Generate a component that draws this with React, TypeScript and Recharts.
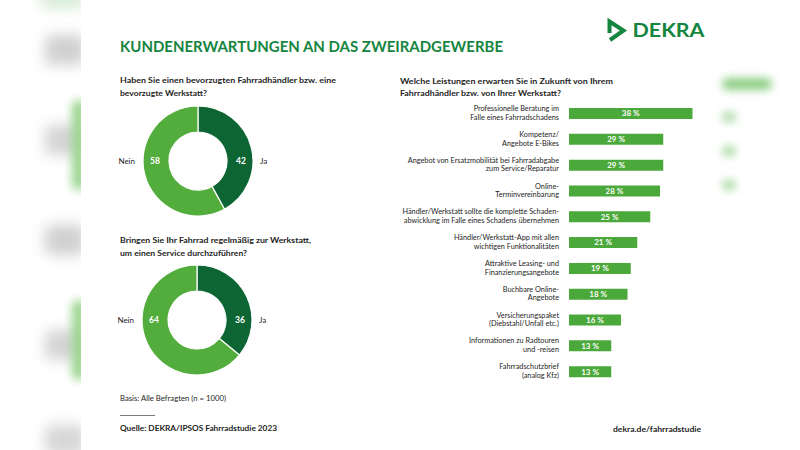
import React from 'react';
import { PieChart, Pie, Cell, BarChart, Bar, XAxis, YAxis, LabelList } from 'recharts';

const FONT = 'Lato, "Open Sans", sans-serif';
const GREEN_TITLE = '#15853f';
const DARK = '#0c6532';
const LIGHT = '#52ad3c';
const BAR = '#4ba83a';
const TEXT = '#1e1e1e';

// Donuts
const donutNames = ['Ja', 'Nein'];
const donut1Values = [42, 58];
const donut2Values = [36, 64];
const donutColors = [DARK, LIGHT];

// Bars
const serviceLabels = [
  'Professionelle Beratung im|Falle eines Fahrradschadens',
  'Kompetenz/|Angebote E-Bikes',
  'Angebot von Ersatzmobilität bei Fahrradabgabe|zum Service/Reparatur',
  'Online-|Terminvereinbarung',
  'Händler/Werkstatt sollte die komplette Schaden-|abwicklung im Falle eines Schadens übernehmen',
  'Händler/Werkstatt-App mit allen|wichtigen Funktionalitäten',
  'Attraktive Leasing- und|Finanzierungsangebote',
  'Buchbare Online-|Angebote',
  'Versicherungspaket|(Diebstahl/Unfall etc.)',
  'Informationen zu Radtouren|und -reisen',
  'Fahrradschutzbrief|(analog Kfz)',
];
const serviceValues = [38, 29, 29, 28, 25, 21, 19, 18, 16, 13, 13];

const title = 'KUNDENERWARTUNGEN AN DAS ZWEIRADGEWERBE';
const q1 = ['Haben Sie einen bevorzugten Fahrradhändler bzw. eine', 'bevorzugte Werkstatt?'];
const q2 = ['Bringen Sie Ihr Fahrrad regelmäßig zur Werkstatt,', 'um einen Service durchzuführen?'];
const q3 = ['Welche Leistungen erwarten Sie in Zukunft von Ihrem', 'Fahrradhändler bzw. von Ihrer Werkstatt?'];
const basis = 'Basis: Alle Befragten (n = 1000)';
const source = 'Quelle: DEKRA/IPSOS Fahrradstudie 2023';
const url = 'dekra.de/fahrradstudie';

const OUTER = 55;
const INNER = 29;

function makeLabel(cx: number, cy: number) {
  return (props: any) => {
    const { index, value, name } = props;
    const mid = (OUTER + INNER) / 2 + 1;
    const isJa = index === 0;
    const vx = isJa ? cx + mid : cx - mid;
    const nx = isJa ? cx + OUTER + 7 : cx - OUTER - 8;
    return (
      <g key={`l${index}`}>
        <text x={vx} y={cy + 3} textAnchor="middle" fill="#fff" fontSize={8.5} fontWeight={700} fontFamily={FONT}>
          {value}
        </text>
        <text x={nx} y={cy + 3} textAnchor={isJa ? 'start' : 'end'} fill={TEXT} stroke="none" fontSize={8} fontFamily={FONT}>
          {name}
        </text>
      </g>
    );
  };
}

function Donut({ values, left, top, cx, cy }: { values: number[]; left: number; top: number; cx: number; cy: number }) {
  const data = donutNames.map((n, i) => ({ name: n, value: values[i] }));
  return (
    <div style={{ position: 'absolute', left, top }}>
      <PieChart width={200} height={125} margin={{ top: 0, right: 0, bottom: 0, left: 0 }}>
        <Pie
          data={data}
          dataKey="value"
          nameKey="name"
          cx={cx}
          cy={cy}
          innerRadius={INNER}
          outerRadius={OUTER}
          startAngle={90}
          endAngle={-270}
          stroke="#fff"
          strokeWidth={1.2}
          isAnimationActive={false}
          labelLine={false}
          label={makeLabel(cx, cy)}
        >
          {data.map((d, i) => (
            <Cell key={d.name} fill={donutColors[i]} />
          ))}
        </Pie>
      </PieChart>
    </div>
  );
}

function ServiceTick(props: any) {
  const { x, y, payload } = props;
  const lines = String(payload.value).split('|');
  return (
    <text x={x} y={y} textAnchor="end" fill={TEXT} fontSize={7.3} fontFamily={FONT}>
      <tspan x={x} y={y - 2.8}>{lines[0]}</tspan>
      <tspan x={x} y={y + 5.8}>{lines[1]}</tspan>
    </text>
  );
}

const barData = serviceLabels.map((l, i) => ({ label: l, value: serviceValues[i] }));

function Blob({ l, t, w, h, c, b = 7 }: { l: number; t: number; w: number; h: number; c: string; b?: number }) {
  return <div style={{ position: 'absolute', left: l, top: t, width: w, height: h, background: c, filter: `blur(${b}px)`, borderRadius: 6 }} />;
}

export default function App() {
  return (
    <div style={{ position: 'absolute', left: 0, top: 0, width: 800, height: 450, background: '#fff', overflow: 'hidden', fontFamily: FONT }}>
      {/* blurred background outside card */}
      <Blob l={45} t={35} w={40} h={30} c="#d0d0d0" />
      <Blob l={45} t={125} w={40} h={30} c="#d4d4d4" />
      <Blob l={72} t={100} w={14} h={90} c="#9bd490" b={5} />
      <Blob l={45} t={225} w={40} h={30} c="#d0d0d0" />
      <Blob l={45} t={330} w={40} h={30} c="#d4d4d4" />
      <Blob l={72} t={300} w={14} h={80} c="#9bd490" b={5} />
      <Blob l={45} t={425} w={40} h={30} c="#d6d6d6" />
      <Blob l={40} t={-10} w={45} h={18} c="#d5ebd5" />
      <div style={{ position: 'absolute', left: 81, top: 0, width: 638, height: 450, background: '#fff' }} />
      <Blob l={722} t={78} w={50} h={12} c="#8dcd84" b={4} />
      <Blob l={722} t={112} w={14} h={10} c="#a9d9a2" b={4} />
      <Blob l={722} t={146} w={14} h={10} c="#a9d9a2" b={4} />
      <Blob l={722} t={180} w={14} h={10} c="#a9d9a2" b={4} />

      <svg width={800} height={450} style={{ position: 'absolute', left: 0, top: 0 }}>
        <text x={120} y={51.5} fill={GREEN_TITLE} fontSize={16} fontWeight={700} fontFamily={FONT} textLength={383} lengthAdjust="spacingAndGlyphs">
          {title}
        </text>
        {/* logo */}
        <polyline points="609.5,33 609.5,21.5 623.5,30.5 610,40" fill="none" stroke={GREEN_TITLE} strokeWidth={4} strokeLinejoin="miter" />
        <text x={632.5} y={36.8} fill={GREEN_TITLE} fontSize={19.5} fontWeight={700} fontFamily={FONT} textLength={72} lengthAdjust="spacingAndGlyphs">
          DEKRA
        </text>

        <g fontFamily={FONT} fontSize={8.3} fontWeight={700} fill={TEXT}>
          <text x={120} y={83.3} textLength={216} lengthAdjust="spacingAndGlyphs">{q1[0]}</text>
          <text x={120} y={96} textLength={87} lengthAdjust="spacingAndGlyphs">{q1[1]}</text>
          <text x={120} y={243.3} textLength={191} lengthAdjust="spacingAndGlyphs">{q2[0]}</text>
          <text x={120} y={256} textLength={127} lengthAdjust="spacingAndGlyphs">{q2[1]}</text>
          <text x={400} y={83.5} textLength={213} lengthAdjust="spacingAndGlyphs">{q3[0]}</text>
          <text x={400} y={96} textLength={161} lengthAdjust="spacingAndGlyphs">{q3[1]}</text>
          <text x={120} y={431} textLength={157} lengthAdjust="spacingAndGlyphs">{source}</text>
          <text x={613} y={431.5} textLength={88} lengthAdjust="spacingAndGlyphs">{url}</text>
        </g>
        <text x={120} y={401} fontFamily={FONT} fontSize={7.5} fill={TEXT} textLength={106} lengthAdjust="spacingAndGlyphs">{basis}</text>
        <line x1={120} x2={155} y1={415.5} y2={415.5} stroke="#444" strokeWidth={0.7} />
      </svg>

      <Donut values={donut1Values} left={100} top={100} cx={98} cy={61} />
      <Donut values={donut2Values} left={100} top={259} cx={97} cy={61} />

      <div style={{ position: 'absolute', left: 380, top: 101 }}>
        <BarChart width={319} height={284} data={barData} layout="vertical" margin={{ top: 0, right: 0, bottom: 0, left: 0 }} barCategoryGap={0}>
          <XAxis type="number" domain={[0, 40]} hide />
          <YAxis
            type="category"
            dataKey="label"
            width={189}
            axisLine={false}
            tickLine={false}
            tickMargin={4}
            interval={0}
            tick={<ServiceTick />}
          />
          <Bar dataKey="value" fill={BAR} barSize={11} isAnimationActive={false}>
            <LabelList
              dataKey="value"
              position="center"
              formatter={(v: any) => `${v} %`}
              fill="#fff"
              fontSize={8}
              fontWeight={700}
              fontFamily={FONT}
            />
          </Bar>
        </BarChart>
      </div>
    </div>
  );
}
